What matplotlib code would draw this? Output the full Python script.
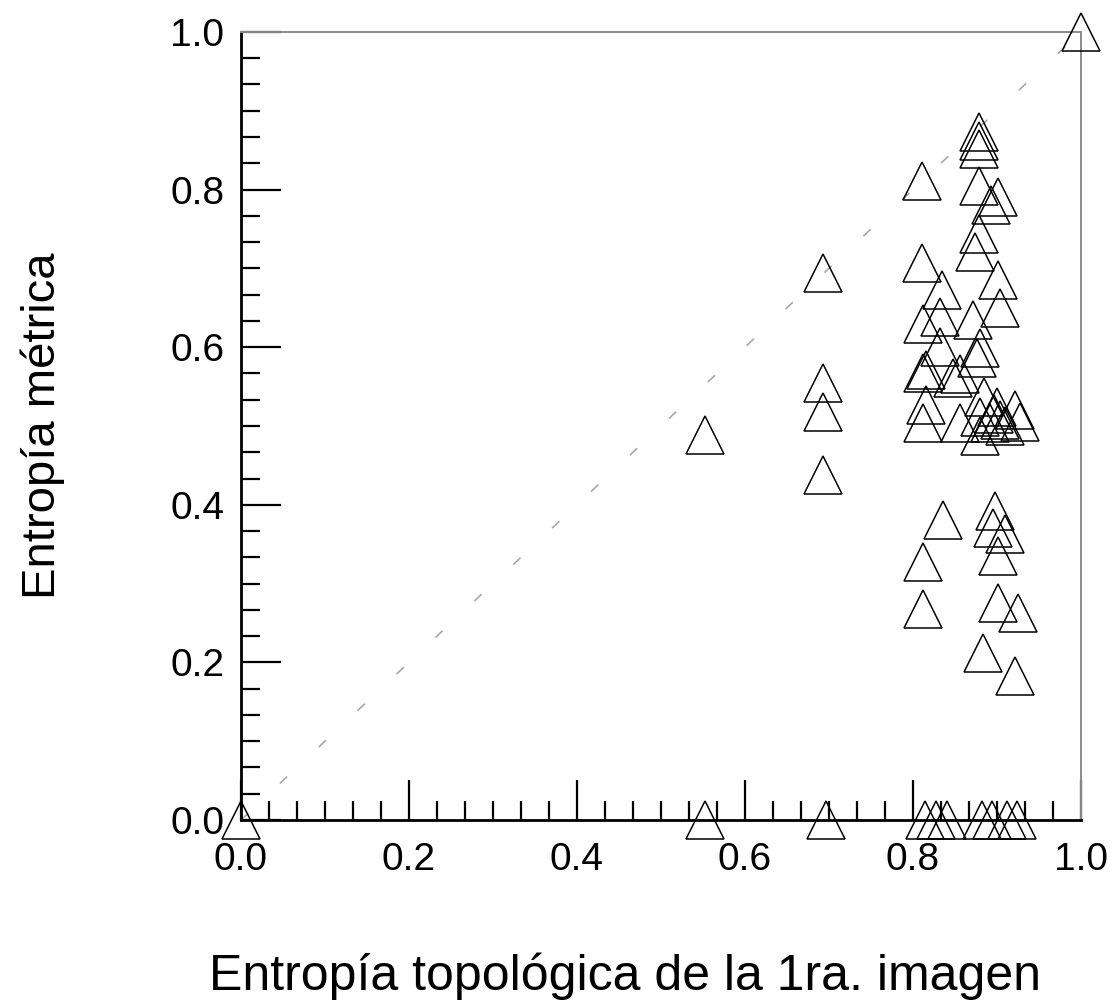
import numpy as np
import matplotlib.pyplot as plt
from matplotlib.ticker import MultipleLocator

plt.rcParams['font.family'] = ['Liberation Sans', 'DejaVu Sans']

# points (topological entropy, metric entropy)
ent_topo = [0.0, 1.0,
            0.552, 0.553,
            0.693, 0.693, 0.693, 0.693, 0.696,
            0.811, 0.811, 0.835, 0.832, 0.812, 0.832, 0.816, 0.812, 0.848, 0.856,
            0.816, 0.812, 0.856, 0.836, 0.812, 0.812, 0.814, 0.827, 0.840,
            0.879, 0.879, 0.879, 0.879, 0.901, 0.893, 0.879, 0.874, 0.901,
            0.904, 0.871, 0.880, 0.876, 0.884, 0.921, 0.900, 0.880, 0.904,
            0.892, 0.927, 0.880, 0.896, 0.910, 0.898, 0.895, 0.910, 0.901,
            0.901, 0.925, 0.883, 0.921, 0.882, 0.894, 0.912, 0.924]
ent_metr = [0.0, 1.0,
            0.489, 0.0,
            0.694, 0.555, 0.518, 0.438, 0.0,
            0.811, 0.707, 0.672, 0.638, 0.630, 0.600, 0.571, 0.567, 0.561, 0.566,
            0.527, 0.504, 0.504, 0.381, 0.327, 0.268, 0.0, 0.0, 0.0,
            0.873, 0.862, 0.851, 0.804, 0.791, 0.780, 0.744, 0.721, 0.685,
            0.650, 0.634, 0.599, 0.586, 0.537, 0.520, 0.524, 0.511, 0.508,
            0.504, 0.505, 0.487, 0.515, 0.500, 0.392, 0.370, 0.363, 0.335,
            0.275, 0.263, 0.212, 0.183, 0.0, 0.0, 0.0, 0.0]

fig = plt.figure(figsize=(11.13, 10.05), dpi=100)
ax = fig.add_axes([0.2165, 0.1841, 0.7547, 0.7841])

# identity line
ax.plot([0, 1], [0, 1], color='#a8a8a8', lw=1.2, linestyle=(0, (6, 26)), zorder=1)

ax.plot(ent_topo, ent_metr, linestyle='none', marker='^', markersize=27,
        markerfacecolor='none', markeredgecolor='black', markeredgewidth=1.1,
        clip_on=False, zorder=3)

ax.set_xlim(0, 1)
ax.set_ylim(0, 1)
ax.xaxis.set_major_locator(MultipleLocator(0.2))
ax.yaxis.set_major_locator(MultipleLocator(0.2))
ax.xaxis.set_minor_locator(MultipleLocator(0.2 / 6))
ax.yaxis.set_minor_locator(MultipleLocator(0.2 / 6))
ax.xaxis.set_major_formatter(plt.FormatStrFormatter('%.1f'))
ax.yaxis.set_major_formatter(plt.FormatStrFormatter('%.1f'))

ax.tick_params(which='both', direction='in', labelsize=28, width=1.6, color='black')
ax.tick_params(which='major', length=29)
ax.tick_params(which='minor', length=14)
ax.tick_params(axis='y', pad=12)
ax.tick_params(axis='x', pad=16)

for s in ['left', 'bottom']:
    ax.spines[s].set_linewidth(2)
    ax.spines[s].set_color('black')
for s in ['top', 'right']:
    ax.spines[s].set_linewidth(1.4)
    ax.spines[s].set_color('#8a8a8a')

ax.set_xlabel('Entropía topológica de la 1ra. imagen', fontsize=36)
ax.set_ylabel('Entropía métrica', fontsize=34, labelpad=76)
ax.xaxis.set_label_coords(0.457, -0.168)

fig.savefig('out.png', dpi=100)
